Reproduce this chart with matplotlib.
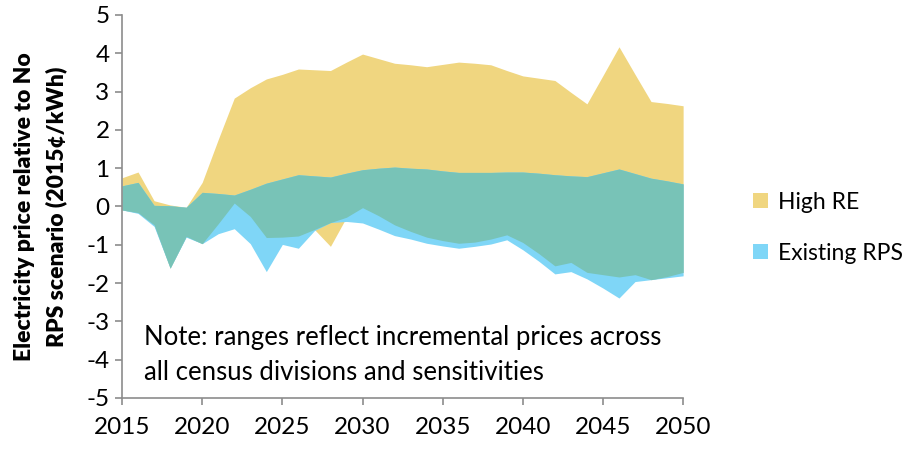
import numpy as np
import matplotlib
matplotlib.use('Agg')
import matplotlib.pyplot as plt

plt.rcParams['font.family'] = ['Lato', 'DejaVu Sans']
plt.rcParams['axes.unicode_minus'] = False

years = np.arange(2015, 2051)

high_re_top = [0.75, 0.90, 0.15, 0.04, -0.02, 0.63, 1.75, 2.83, 3.10, 3.33, 3.45, 3.59,
               3.57, 3.55, 3.77, 3.98, 3.86, 3.74, 3.70, 3.65, 3.71, 3.77, 3.74, 3.70,
               3.55, 3.41, 3.35, 3.29, 2.98, 2.68, 3.42, 4.17, 3.45, 2.74, 2.69, 2.63]
high_re_low = [-0.09, -0.16, -0.48, -1.61, -0.78, -0.97, -0.45, 0.09, -0.26, -0.81, -0.80, -0.77,
               -0.60, -1.04, -0.28, -0.03, -0.24, -0.48, -0.65, -0.80, -0.89, -0.96, -0.93, -0.85,
               -0.74, -0.94, -1.23, -1.55, -1.46, -1.72, -1.78, -1.84, -1.78, -1.91, -1.83, -1.72]
rps_top = [0.54, 0.63, 0.03, 0.02, -0.02, 0.37, 0.34, 0.30, 0.45, 0.61, 0.72, 0.83,
           0.80, 0.77, 0.87, 0.96, 1.00, 1.03, 1.00, 0.98, 0.93, 0.89, 0.89, 0.89,
           0.90, 0.90, 0.87, 0.83, 0.80, 0.78, 0.88, 0.98, 0.86, 0.74, 0.67, 0.59]
rps_low = [-0.09, -0.18, -0.52, -1.61, -0.80, -0.97, -0.71, -0.58, -0.97, -1.70, -0.99, -1.09,
           -0.63, -0.42, -0.39, -0.43, -0.59, -0.76, -0.85, -0.96, -1.03, -1.09, -1.04, -0.98,
           -0.87, -1.13, -1.43, -1.76, -1.70, -1.89, -2.13, -2.39, -1.96, -1.91, -1.86, -1.81]

yellow = '#F0D680'
blue = '#7FD6F7'
teal = '#78C3B7'

fig = plt.figure(figsize=(9.06, 4.49), dpi=100)
ax = fig.add_axes([0.1347, 0.1136, 0.6193, 0.853])

ax.fill_between(years, high_re_low, high_re_top, color=yellow, lw=0, label='High RE')
ax.fill_between(years, rps_low, rps_top, color=blue, lw=0, label='Existing RPS')
# overlap of the two ranges
lo = np.maximum(high_re_low, rps_low)
hi = np.minimum(high_re_top, rps_top)
ax.fill_between(years, lo, hi, where=hi > lo, interpolate=True, color=teal, lw=0)

ax.set_xlim(2015, 2050)
ax.set_ylim(-5, 5)
ax.set_xticks(range(2015, 2051, 5))
ax.set_yticks(range(-5, 6))
for s in ['top', 'right']:
    ax.spines[s].set_visible(False)
for s in ['left', 'bottom']:
    ax.spines[s].set_color('#8c8c8c')
    ax.spines[s].set_linewidth(1.2)
ax.tick_params(colors='#8c8c8c', labelcolor='black', labelsize=17.5, length=5, width=1.2)
ax.tick_params(axis='x', pad=9)
ax.tick_params(axis='y', pad=4)

ax.set_ylabel('Electricity price relative to No\nRPS scenario (2015¢/kWh)',
              fontsize=16.5, fontweight='heavy', labelpad=14, linespacing=1.55)

ax.text(2016.4, -3.88, 'Note: ranges reflect incremental prices across\nall census divisions and sensitivities',
        fontsize=18.5, va='center', ha='left', linespacing=1.5)

fig.legend(loc='center left', bbox_to_anchor=(0.831, 0.493), frameon=False, fontsize=16.5,
           handlelength=0.65, handleheight=0.65, labelspacing=1.3, handletextpad=0.45,
           borderpad=0, borderaxespad=0)

fig.savefig('out.png', dpi=100)
